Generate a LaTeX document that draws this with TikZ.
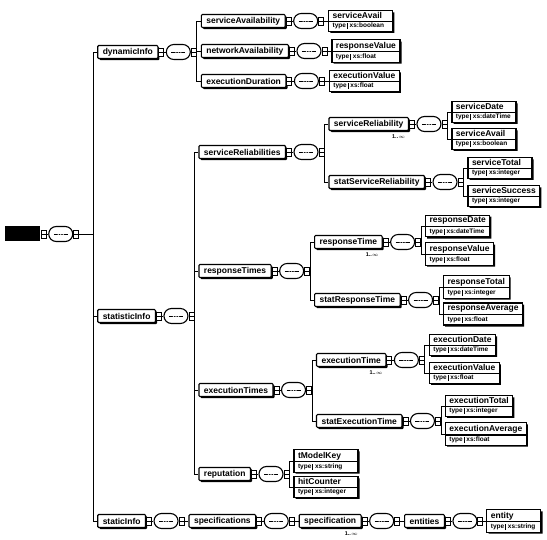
\documentclass[tikz,border=0pt]{standalone}
\usepackage{fontspec}
\setmainfont{Liberation Sans}
\usetikzlibrary{positioning,shapes.misc,shapes.multipart,shadows,calc}
\tikzset{
  elem/.style={draw,line width=1.1pt,fill=white,rounded corners=1pt,minimum height=13pt,
    inner xsep=5pt,inner ysep=1.5pt,font=\fontsize{8.5}{9.5}\selectfont\bfseries,
    drop shadow={shadow xshift=1.6pt,shadow yshift=-1.6pt,opacity=1,fill=black}},
  leaf/.style={elem,rectangle split,rectangle split parts=2,rounded corners=0pt,
    minimum height=0pt,minimum width=64pt,rectangle split part align={left},inner ysep=1.5pt,inner xsep=4pt},
  rootbox/.style={fill=black,minimum width=35pt,minimum height=15pt},
  plug/.style={draw,line width=0.9pt,fill=white,minimum width=5pt,minimum height=8pt,inner sep=0pt,
    path picture={\draw (path picture bounding box.west) -- (path picture bounding box.east);}},
  seq/.style={rounded rectangle,draw,line width=1.1pt,fill=white,minimum width=24pt,minimum height=15pt,inner sep=0pt,
    path picture={
      \draw[thick] ([xshift=-7pt]path picture bounding box.center) -- ([xshift=7pt]path picture bounding box.center);
      \foreach \d in {-2.5,0,2.5} \fill ([xshift=\d pt]path picture bounding box.center) circle (0.8pt);}},
  mult/.style={font=\fontsize{5.5}{5.5}\selectfont\bfseries,inner sep=0.5pt},
  every path/.append style={line width=0.8pt},
}
% element -> plug -> sequence -> plug -> bus
\newcommand{\seqafter}[2]{%
  \node[plug,anchor=west] (#1p) at (#1.east) {};
  \node[seq,right=1.5pt of #1p] (#1s) {};
  \node[plug,anchor=west] (#1q) at (#1s.east) {};
  \coordinate (#1b) at ([xshift=#2]#1q.east);
  \draw (#1p) -- (#1s) (#1q.east) -- (#1b);
}
% child hanging off the bus of its parent
\newcommand{\kid}[5][elem]{%
  \node[#1,anchor=west] (#3) at ($(#2b |- 0,#4)+(4,0)$) {#5};
  \draw (#2b) |- (#3.west);
}
\newcommand{\typerow}[1]{{\fontsize{6.5}{7.5}\selectfont type\,\vrule\,\,xs:#1}}

\begin{document}
\begin{tikzpicture}[x=1pt,y=-1pt]
  \useasboundingbox (0,0) rectangle (547,540);
  % root
  \node[rootbox,anchor=west] (root) at (5,234) {};
  \seqafter{root}{14pt}
  \kid{root}{dyn}{52}{dynamicInfo}
  \kid{root}{stat}{316}{statisticInfo}
  \kid{root}{stc}{521}{staticInfo}
  \seqafter{dyn}{0pt}
  \seqafter{stat}{0pt}
  % inner elements
  \foreach \p/\n/\y/\t in {
    dyn/sav/21/serviceAvailability, dyn/nav/51/networkAvailability, dyn/exd/81/executionDuration,
    stat/srs/152/serviceReliabilities, stat/rts/271/responseTimes,
    stat/ets/390/executionTimes, stat/rep/474/reputation,
    srs/sr/124/serviceReliability, srs/ssr/182/statServiceReliability,
    rts/rt/242/responseTime, rts/srt/300/statResponseTime,
    ets/et/360/executionTime, ets/set/421/statExecutionTime}
  {
    \kid{\p}{\n}{\y}{\t}
    \seqafter{\n}{0pt}
  }
  \foreach \n in {sr,rt,et}
    \node[mult,anchor=north east] (\n m) at ([xshift=-3pt,yshift=-2.5pt]\n.south east) {1..$\infty$};
  % simple-typed leaves
  \foreach \p/\n/\y/\t/\ty in {
    sav/la/21/serviceAvail/boolean, nav/lb/51/responseValue/float, exd/lc/81/executionValue/float,
    sr/ld/112/serviceDate/dateTime, sr/le/139/serviceAvail/boolean,
    ssr/lf/168/serviceTotal/integer, ssr/lg/196/serviceSuccess/integer,
    rt/lh/226/responseDate/dateTime, rt/li/254/responseValue/float,
    srt/lj/287/responseTotal/integer, srt/lk/314/responseAverage/float,
    et/ll/345/executionDate/dateTime, et/lm/373/executionValue/float,
    set/ln/406/executionTotal/integer, set/lo/434/executionAverage/float,
    rep/lp/461/tModelKey/string, rep/lq/487/hitCounter/integer}
    \kid[leaf]{\p}{\n}{\y}{\t\nodepart{two}\typerow{\ty}};
  % static chain
  \seqafter{stc}{0pt}
  \node[elem,right=4pt of stcq] (specs) {specifications};
  \draw (stcq) -- (specs);
  \seqafter{specs}{0pt}
  \node[elem,right=4pt of specsq] (spec) {specification};
  \draw (specsq) -- (spec);
  \node[mult,anchor=north east] (specm) at ([xshift=-3pt,yshift=-2.5pt]spec.south east) {1..$\infty$};
  \seqafter{spec}{0pt}
  \node[elem,right=4pt of specq] (ents) {entities};
  \draw (specq) -- (ents);
  \seqafter{ents}{0pt}
  \node[leaf,minimum width=54pt,right=3pt of entsq] (ent) {entity\nodepart{two}\typerow{string}};
  \draw (entsq) -- (ent);
\end{tikzpicture}
\end{document}
